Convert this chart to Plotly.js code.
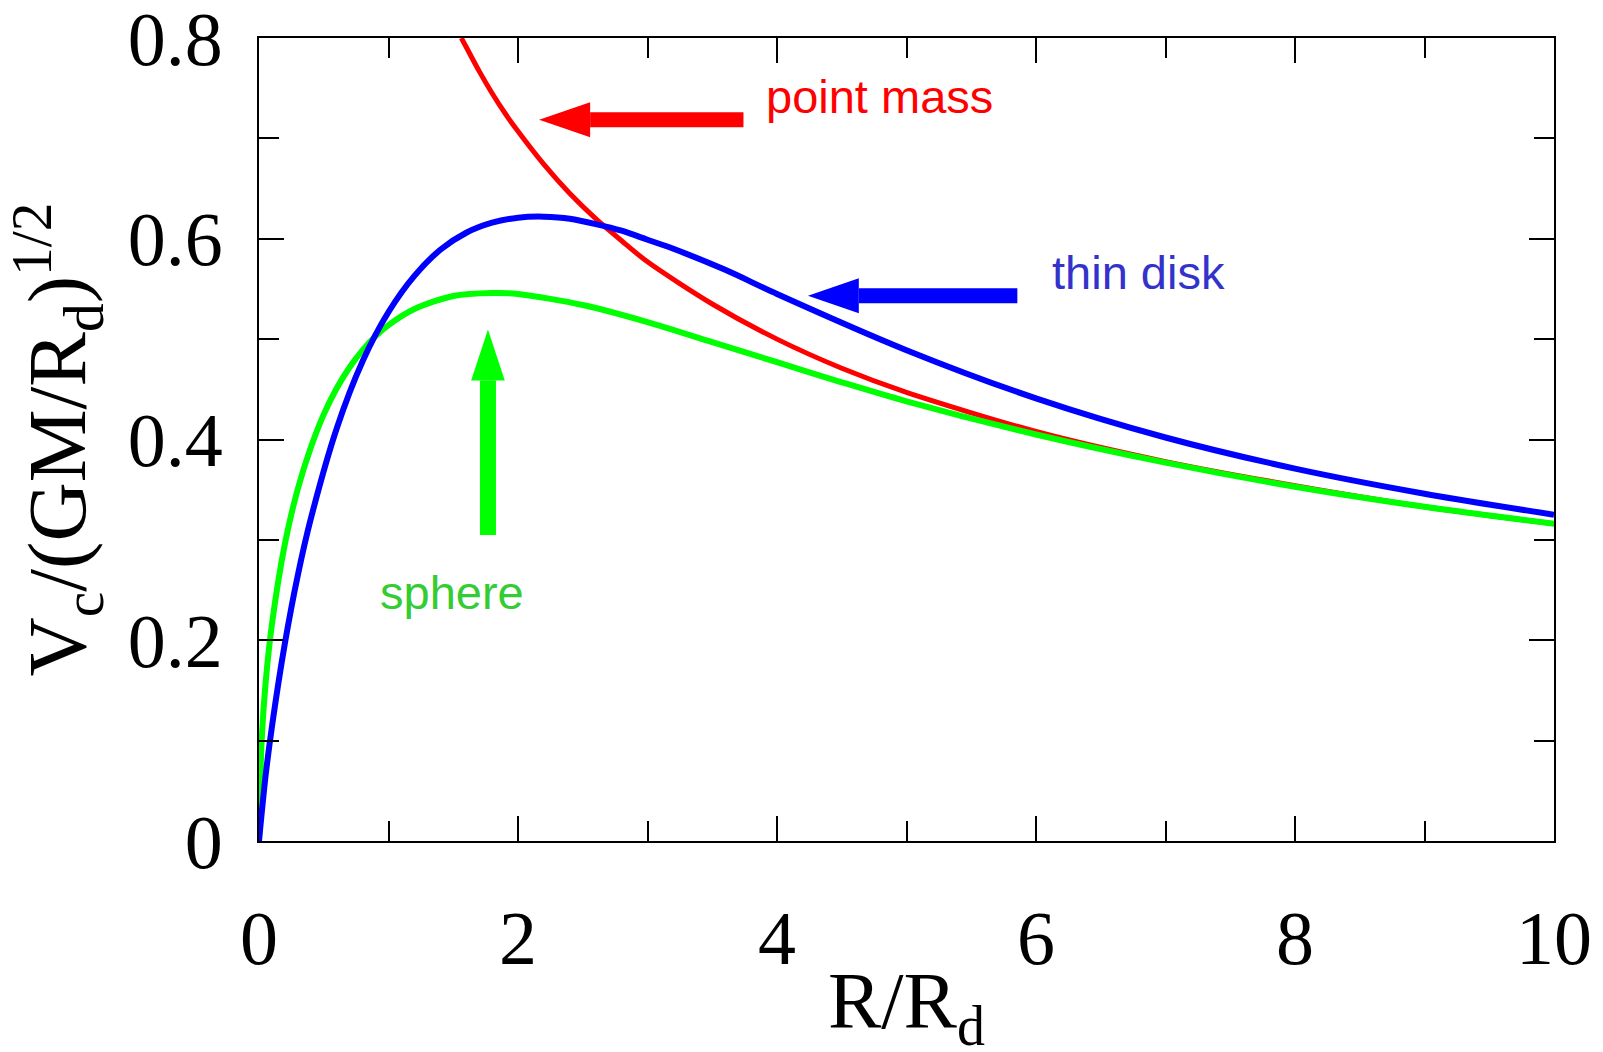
<!DOCTYPE html>
<html>
<head>
<meta charset="utf-8">
<script src="https://cdn.plot.ly/plotly-3.0.1.min.js"></script>
<style>html,body{margin:0;padding:0;background:#fff;}#chart{width:1603px;height:1052px;}</style>
</head>
<body>
<div id="chart"></div>
<script>
// R / R_d values and circular velocities
const pointR = [1.5625, 1.6, 1.7, 1.8, 1.9, 2.0, 2.2, 2.4, 2.6, 2.8, 3.0, 3.5, 4.0, 4.5, 5, 6, 7, 8, 9, 10];
const pointV = [0.800, 0.791, 0.767, 0.745, 0.725, 0.707, 0.674, 0.645, 0.620, 0.598, 0.577, 0.535, 0.500, 0.471, 0.447, 0.408, 0.378, 0.354, 0.333, 0.316];

const sphereR = [0, 0.02, 0.05, 0.1, 0.2, 0.3, 0.4, 0.5, 0.6, 0.7, 0.8, 0.9, 1.0, 1.2, 1.5, 1.8, 2.0, 2.5, 3, 3.5, 4, 4.5, 5, 6, 7, 8, 9, 10];
const sphereV = [0, 0.099, 0.156, 0.216, 0.296, 0.351, 0.392, 0.425, 0.451, 0.472, 0.489, 0.503, 0.514, 0.530, 0.543, 0.546, 0.545, 0.534, 0.517, 0.497, 0.477, 0.457, 0.438, 0.405, 0.377, 0.353, 0.333, 0.316];

const diskR = [0, 0.05, 0.1, 0.2, 0.3, 0.4, 0.6, 0.8, 1.0, 1.2, 1.4, 1.6, 1.8, 2.0, 2.2, 2.4, 2.8, 3.0, 3.2, 3.6, 4.0, 5, 6, 7, 8, 9, 10];
const diskV = [0, 0.064, 0.114, 0.197, 0.265, 0.321, 0.411, 0.478, 0.527, 0.563, 0.589, 0.606, 0.616, 0.621, 0.622, 0.620, 0.608, 0.599, 0.590, 0.569, 0.545, 0.489, 0.441, 0.402, 0.371, 0.346, 0.325];

const xTickVals = [0, 2, 4, 6, 8, 10];
const yTickVals = [0, 0.2, 0.4, 0.6, 0.8];
const yTickText = ['0', '0.2', '0.4', '0.6', '0.8'];

const xTitle = 'R/R<sub>d</sub>';
const yTitle = 'V<sub>c</sub>/(GM/R<sub>d</sub>)<sup>1/2</sup>';

const labels = [
  {text: 'point mass', x: 4.79, y: 0.742, color: '#ff0000'},
  {text: 'thin disk', x: 6.79, y: 0.566, color: '#3333cc'},
  {text: 'sphere', x: 1.49, y: 0.248, color: '#33cc33'}
];

// arrows: tail, head base, tip, half-width of head (data units)
const arrows = [
  {color: '#ff0000', dir: 'h', tail: 3.741, base: 2.557, tip: 2.163, at: 0.7185, half: 0.0175},
  {color: '#0000ff', dir: 'h', tail: 5.856, base: 4.632, tip: 4.239, at: 0.5432, half: 0.0175},
  {color: '#00ff00', dir: 'v', tail: 0.3048, base: 0.4587, tip: 0.5096, at: 1.768, half: 0.130}
];

const shapes = [];
arrows.forEach(a => {
  if (a.dir === 'h') {
    shapes.push({type: 'line', xref: 'x', yref: 'y', x0: a.tail, x1: a.base, y0: a.at, y1: a.at,
      line: {color: a.color, width: 15}});
    shapes.push({type: 'path', xref: 'x', yref: 'y',
      path: `M ${a.tip},${a.at} L ${a.base},${a.at + a.half} L ${a.base},${a.at - a.half} Z`,
      fillcolor: a.color, line: {width: 0}});
  } else {
    shapes.push({type: 'line', xref: 'x', yref: 'y', x0: a.at, x1: a.at, y0: a.tail, y1: a.base,
      line: {color: a.color, width: 16}});
    shapes.push({type: 'path', xref: 'x', yref: 'y',
      path: `M ${a.at},${a.tip} L ${a.at + a.half},${a.base} L ${a.at - a.half},${a.base} Z`,
      fillcolor: a.color, line: {width: 0}});
  }
});

const traces = [
  {x: pointR, y: pointV, mode: 'lines', line: {color: '#ff0000', width: 5, shape: 'spline', smoothing: 0.8}, name: 'point mass'},
  {x: sphereR, y: sphereV, mode: 'lines', line: {color: '#00ff00', width: 6, shape: 'spline', smoothing: 0.8}, name: 'sphere'},
  {x: diskR, y: diskV, mode: 'lines', line: {color: '#0000ff', width: 6, shape: 'spline', smoothing: 0.8}, name: 'thin disk'}
];

const serif = 'Liberation Serif, Times New Roman, serif';

const axisCommon = {
  showline: true, linecolor: '#000', linewidth: 2, mirror: 'allticks',
  ticks: 'inside', ticklen: 25, tickwidth: 2, tickcolor: '#000',
  showgrid: false, zeroline: false, ticklabeloverflow: 'allow', automargin: false,
  tickfont: {family: serif, size: 76, color: '#000'}
};

const annotations = labels.map(l => ({
  text: l.text, x: l.x, y: l.y, xref: 'x', yref: 'y', showarrow: false,
  font: {family: 'Liberation Sans, Arial, sans-serif', size: 47, color: l.color},
  xanchor: 'center', yanchor: 'middle'
}));
// x-axis title placed below the tick labels
annotations.push({
  text: xTitle, xref: 'paper', yref: 'paper', x: 0.5, y: 0, xanchor: 'center', yanchor: 'top',
  yshift: -114, showarrow: false, font: {family: serif, size: 80, color: '#000'}
});

const layout = {
  width: 1603, height: 1052,
  margin: {l: 259, r: 49, t: 38, b: 211},
  paper_bgcolor: '#fff', plot_bgcolor: '#fff',
  showlegend: false,
  xaxis: Object.assign({}, axisCommon, {
    range: [0, 10], tickvals: xTickVals, ticktext: xTickVals.map(String),
    minor: {dtick: 1, tick0: 0, ticks: 'inside', ticklen: 20, tickwidth: 2, tickcolor: '#000', showgrid: false},
    ticklabelstandoff: 30
  }),
  yaxis: Object.assign({}, axisCommon, {
    range: [0, 0.8], tickvals: yTickVals, ticktext: yTickText,
    minor: {dtick: 0.1, tick0: 0, ticks: 'inside', ticklen: 20, tickwidth: 2, tickcolor: '#000', showgrid: false},
    ticklabelstandoff: 19,
    title: {text: yTitle, font: {family: serif, size: 82, color: '#000'}}
  }),
  shapes: shapes,
  annotations: annotations
};

Plotly.newPlot('chart', traces, layout, {displayModeBar: false, staticPlot: true});
</script>
</body>
</html>
